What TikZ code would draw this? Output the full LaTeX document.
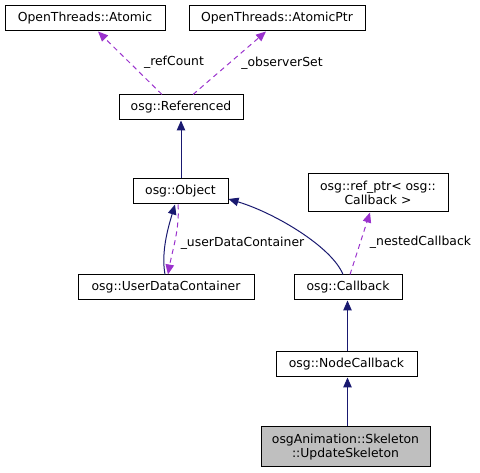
\documentclass[tikz,border=0pt]{standalone}
\usepackage{fontspec}
\setmainfont{DejaVu Sans}
\usetikzlibrary{arrows.meta}
\definecolor{navy}{HTML}{191970}
\definecolor{purp}{HTML}{9A32CD}
\definecolor{greyfill}{HTML}{BFBFBF}
\tikzset{
  cls/.style={draw=black, line width=1pt, fill=white, inner sep=0pt, align=center,
    font=\fontsize{12.4}{14}\selectfont},
  inh/.style={draw=navy, line width=1pt, -{Triangle[length=10pt,width=8.5pt]}, arrows={-{Triangle[length=10pt,width=8.5pt,fill=navy]}}},
  use/.style={draw=purp, line width=1pt, dash pattern=on 5pt off 4pt,
    -{Triangle[length=10pt,width=8.5pt,fill=purp]}},
  lbl/.style={font=\fontsize{12.4}{14}\selectfont, inner sep=0pt}
}
\begin{document}
\begin{tikzpicture}[x=1pt,y=-1pt]
\useasboundingbox (0,0) rectangle (480,473);
\node[cls, minimum width=160pt, minimum height=25pt] (atomic) at (85,18.5) {OpenThreads::Atomic};
\node[cls, minimum width=176pt, minimum height=25pt] (atomicptr) at (277,18.5) {OpenThreads::AtomicPtr};
\node[cls, minimum width=124pt, minimum height=25pt] (referenced) at (181,107.5) {osg::Referenced};
\node[cls, minimum width=95pt, minimum height=25pt] (object) at (180.5,191.5) {osg::Object};
\node[cls, minimum width=176pt, minimum height=25pt] (udc) at (166,287.5) {osg::UserDataContainer};
\node[cls, minimum width=108pt, minimum height=25pt] (callback) at (348,287.5) {osg::Callback};
\node[cls, minimum width=140pt, minimum height=38pt] (refptr) at (378,193) {osg::ref\_ptr< osg::\\Callback >};
\node[cls, minimum width=141pt, minimum height=25pt] (nodecb) at (346.5,364.5) {osg::NodeCallback};
\node[cls, fill=greyfill, minimum width=169pt, minimum height=40pt] (upd) at (345.5,447) {osgAnimation::Skeleton\\::UpdateSkeleton};

% usage edges
\draw[use] ([xshift=-19pt]referenced.north) -- ([xshift=13pt]atomic.south);
\draw[use] ([xshift=12pt]referenced.north) -- ([xshift=-11pt]atomicptr.south);
\node[lbl] (lrc) at (174,62) {\_refCount};
\node[lbl] (los) at (282,63) {\_observerSet};

% inheritance
\draw[inh] (object.north -| referenced.south) -- (referenced.south);
\draw[inh] ([xshift=-1pt]udc.north) .. controls (161,252) and (168,228) .. ([xshift=-5.5pt]object.south);
\draw[use] ([xshift=-2.5pt]object.south) .. controls (180,228) and (172,252) .. ([xshift=2pt]udc.north);
\node[lbl] (ludc) at (242.5,243) {\_userDataContainer};

\draw[inh] ([xshift=-5pt]callback.north) .. controls (332,247) and (275,213) .. ([yshift=-7.5pt]object.east);
\draw[use] ([xshift=2pt]callback.north) -- ([xshift=-8pt]refptr.south);
\node[lbl] (lnc) at (420.5,242) {\_nestedCallback};

\draw[inh] ([xshift=-0.5pt]callback.south |- nodecb.north) -- ([xshift=-0.5pt]callback.south);
\draw[inh] ([xshift=-0.5pt]callback.south |- upd.north) -- ([xshift=-0.5pt]callback.south |- nodecb.south);
\end{tikzpicture}
\end{document}
